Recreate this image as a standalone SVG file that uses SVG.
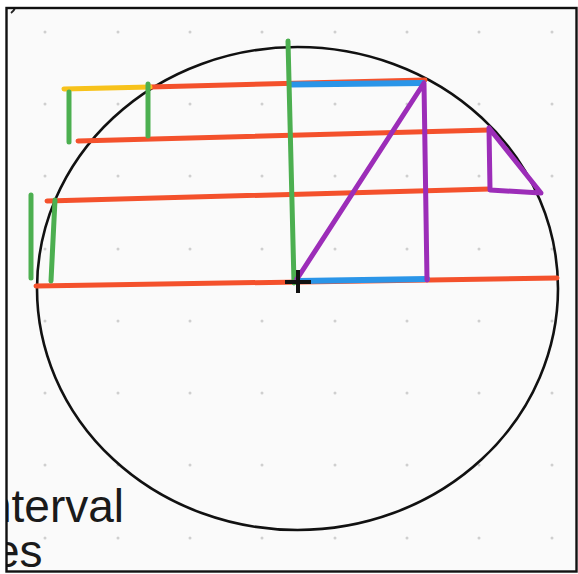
<svg xmlns="http://www.w3.org/2000/svg" width="578" height="574" viewBox="0 0 578 574">
<style>
.red{stroke:#f4512c;stroke-width:5;stroke-linecap:round;fill:none}
.grn{stroke:#4caf50;stroke-width:5;stroke-linecap:round;fill:none}
.yel{stroke:#f7c21b;stroke-width:5;stroke-linecap:round;fill:none}
.blu{stroke:#2a95e8;stroke-width:6;stroke-linecap:round;fill:none}
.pur{stroke:#9c2db8;stroke-width:5;stroke-linecap:round;stroke-linejoin:round;fill:none}
.dot{fill:#cfcfcf}
.txt{font-family:"Liberation Sans",Arial,sans-serif;font-size:46px;fill:#1a1a1a}
</style>
<defs>
<clipPath id="frame"><rect x="7" y="8" width="569" height="563"/></clipPath>
</defs>
<rect x="0" y="0" width="578" height="574" fill="#ffffff"/>
<g clip-path="url(#frame)">
<rect x="6" y="8" width="571" height="564" fill="#fafafa"/>
<g id="grid">
<circle class="dot" cx="45" cy="32" r="1.5"/><circle class="dot" cx="118" cy="32" r="1.5"/><circle class="dot" cx="190" cy="32" r="1.5"/><circle class="dot" cx="262" cy="32" r="1.5"/><circle class="dot" cx="335" cy="32" r="1.5"/><circle class="dot" cx="407" cy="32" r="1.5"/><circle class="dot" cx="479" cy="32" r="1.5"/><circle class="dot" cx="552" cy="32" r="1.5"/>
<circle class="dot" cx="45" cy="104" r="1.5"/><circle class="dot" cx="118" cy="104" r="1.5"/><circle class="dot" cx="190" cy="104" r="1.5"/><circle class="dot" cx="262" cy="104" r="1.5"/><circle class="dot" cx="335" cy="104" r="1.5"/><circle class="dot" cx="407" cy="104" r="1.5"/><circle class="dot" cx="479" cy="104" r="1.5"/><circle class="dot" cx="552" cy="104" r="1.5"/>
<circle class="dot" cx="45" cy="176" r="1.5"/><circle class="dot" cx="118" cy="176" r="1.5"/><circle class="dot" cx="190" cy="176" r="1.5"/><circle class="dot" cx="262" cy="176" r="1.5"/><circle class="dot" cx="335" cy="176" r="1.5"/><circle class="dot" cx="407" cy="176" r="1.5"/><circle class="dot" cx="479" cy="176" r="1.5"/><circle class="dot" cx="552" cy="176" r="1.5"/>
<circle class="dot" cx="45" cy="249" r="1.5"/><circle class="dot" cx="118" cy="249" r="1.5"/><circle class="dot" cx="190" cy="249" r="1.5"/><circle class="dot" cx="262" cy="249" r="1.5"/><circle class="dot" cx="335" cy="249" r="1.5"/><circle class="dot" cx="407" cy="249" r="1.5"/><circle class="dot" cx="479" cy="249" r="1.5"/><circle class="dot" cx="552" cy="249" r="1.5"/>
<circle class="dot" cx="45" cy="321" r="1.5"/><circle class="dot" cx="118" cy="321" r="1.5"/><circle class="dot" cx="190" cy="321" r="1.5"/><circle class="dot" cx="262" cy="321" r="1.5"/><circle class="dot" cx="335" cy="321" r="1.5"/><circle class="dot" cx="407" cy="321" r="1.5"/><circle class="dot" cx="479" cy="321" r="1.5"/><circle class="dot" cx="552" cy="321" r="1.5"/>
<circle class="dot" cx="45" cy="393" r="1.5"/><circle class="dot" cx="118" cy="393" r="1.5"/><circle class="dot" cx="190" cy="393" r="1.5"/><circle class="dot" cx="262" cy="393" r="1.5"/><circle class="dot" cx="335" cy="393" r="1.5"/><circle class="dot" cx="407" cy="393" r="1.5"/><circle class="dot" cx="479" cy="393" r="1.5"/><circle class="dot" cx="552" cy="393" r="1.5"/>
<circle class="dot" cx="45" cy="465" r="1.5"/><circle class="dot" cx="118" cy="465" r="1.5"/><circle class="dot" cx="190" cy="465" r="1.5"/><circle class="dot" cx="262" cy="465" r="1.5"/><circle class="dot" cx="335" cy="465" r="1.5"/><circle class="dot" cx="407" cy="465" r="1.5"/><circle class="dot" cx="479" cy="465" r="1.5"/><circle class="dot" cx="552" cy="465" r="1.5"/>
<circle class="dot" cx="45" cy="538" r="1.5"/><circle class="dot" cx="118" cy="538" r="1.5"/><circle class="dot" cx="190" cy="538" r="1.5"/><circle class="dot" cx="262" cy="538" r="1.5"/><circle class="dot" cx="335" cy="538" r="1.5"/><circle class="dot" cx="407" cy="538" r="1.5"/><circle class="dot" cx="479" cy="538" r="1.5"/><circle class="dot" cx="552" cy="538" r="1.5"/>
</g>
<path d="M11,13 Q14,11 15,8" stroke="#222" stroke-width="2" fill="none"/>
<ellipse id="circle" cx="297.5" cy="288.5" rx="260.5" ry="241.5" fill="none" stroke="#111" stroke-width="2.6"/>
<g id="red-lines">
<line class="red" x1="150" y1="87" x2="425" y2="80"/>
<line class="red" x1="78" y1="141" x2="489" y2="130"/>
<line class="red" x1="47" y1="201" x2="490" y2="189"/>
<line class="red" x1="36" y1="286" x2="557" y2="278"/>
</g>
<g id="yellow"><line class="yel" x1="64" y1="89" x2="150" y2="87"/></g>
<g id="blue">
<line class="blu" x1="292" y1="84.5" x2="423" y2="83"/>
<line class="blu" x1="299" y1="281" x2="427" y2="279"/>
</g>
<g id="green">
<line class="grn" x1="69" y1="92" x2="69" y2="142"/>
<line class="grn" x1="148" y1="84" x2="148" y2="136"/>
<line class="grn" x1="31" y1="195" x2="31" y2="278"/>
<line class="grn" x1="55" y1="200" x2="51" y2="281"/>
<line class="grn" x1="288" y1="41" x2="294" y2="283"/>
</g>
<g id="purple">
<path class="pur" d="M297,279 L424,83 L427,280"/>
<path class="pur" d="M489,128 L490,190 L541,193 Z"/>
</g>
<g id="origin">
<line x1="285" y1="282" x2="311" y2="282" stroke="#111" stroke-width="4"/>
<line x1="298" y1="270" x2="298" y2="293" stroke="#111" stroke-width="4"/>
</g>
<text class="txt" x="-14" y="522">nterval</text>
<text class="txt" x="-6" y="567">es</text>
</g>
<rect x="6.5" y="8" width="570" height="563.5" fill="none" stroke="#111" stroke-width="2.4"/>
</svg>
